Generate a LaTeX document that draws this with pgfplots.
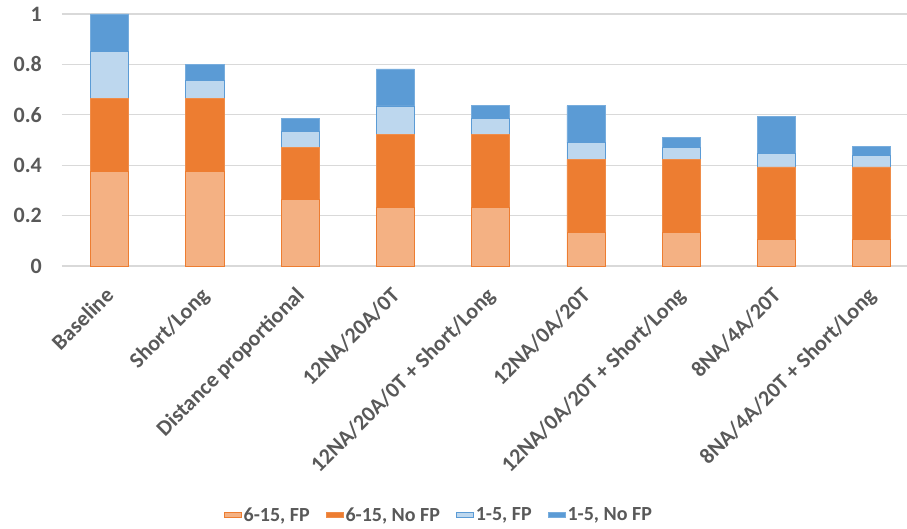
\documentclass[border=0pt]{standalone}
\usepackage{fontspec}
\setmainfont{Carlito}
\usepackage{pgfplots}
\pgfplotsset{compat=1.18}
\definecolor{lorange}{HTML}{F4B183}
\definecolor{dorange}{HTML}{ED7D31}
\definecolor{lblue}{HTML}{BDD7EE}
\definecolor{dblue}{HTML}{5B9BD5}
\definecolor{txt}{HTML}{595959}
\definecolor{grd}{HTML}{D9D9D9}
\begin{document}
\begin{tikzpicture}
\begin{axis}[
  scale only axis,
  width=845pt, height=252pt,
  ybar stacked,
  bar width=0.4,
  xmin=-0.5, xmax=8.37,
  ymin=0, ymax=1,
  ytick={0,0.2,0.4,0.6,0.8,1},
  yticklabels={0,0.2,0.4,0.6,0.8,1},
  xtick={0,...,8},
  xticklabels={Baseline,Short/Long,Distance proportional,12NA/20A/0T,12NA/20A/0T + Short/Long,12NA/0A/20T,12NA/0A/20T  + Short/Long,8NA/4A/20T,8NA/4A/20T + Short/Long},
  axis line style={draw=none},
  major tick length=0pt,
  ymajorgrids,
  grid style={grd, line width=1.3pt},
  tick label style={font=\fontsize{22}{26}\selectfont\bfseries, text=txt},
  xticklabel style={rotate=45, anchor=north east, inner sep=0pt, xshift=-18pt, yshift=-10pt},
  yticklabel style={inner sep=0pt, xshift=-20pt},
  legend style={at={(0.446,-0.988)}, anchor=center, draw=none, legend columns=4,
    font=\fontsize{20}{24}\selectfont\bfseries, text=txt,
    /tikz/every even column/.append style={column sep=14pt}},
  legend image code/.code={\draw[#1, line width=0.8pt] (0pt,-5.5pt) rectangle (11pt,5.5pt);},
  area legend,
  clip=false,
]
\addplot[fill=lorange, draw=dorange, line width=0.75pt] coordinates {(0,0.376) (1,0.376) (2,0.265) (3,0.232) (4,0.232) (5,0.134) (6,0.134) (7,0.104) (8,0.104)};
\addplot[fill=dorange, draw=dorange!70!lorange, line width=0.75pt] coordinates {(0,0.289) (1,0.289) (2,0.206) (3,0.289) (4,0.289) (5,0.289) (6,0.289) (7,0.289) (8,0.289)};
\addplot[fill=lblue, draw=dblue, line width=0.75pt] coordinates {(0,0.188) (1,0.073) (2,0.062) (3,0.114) (4,0.065) (5,0.066) (6,0.048) (7,0.053) (8,0.045)};
\addplot[fill=dblue, draw=dblue!70!lblue, line width=0.75pt] coordinates {(0,0.147) (1,0.062) (2,0.053) (3,0.147) (4,0.050) (5,0.147) (6,0.040) (7,0.148) (8,0.037)};
\legend{6-15{,} FP, 6-15{,} No FP, 1-5{,} FP, 1-5{,} No FP}
\end{axis}
\pgfresetboundingbox
\path[use as bounding box] ([xshift=-62pt,yshift=-263pt]current axis.south west) rectangle ([yshift=14pt]current axis.north east);
\end{tikzpicture}
\end{document}
